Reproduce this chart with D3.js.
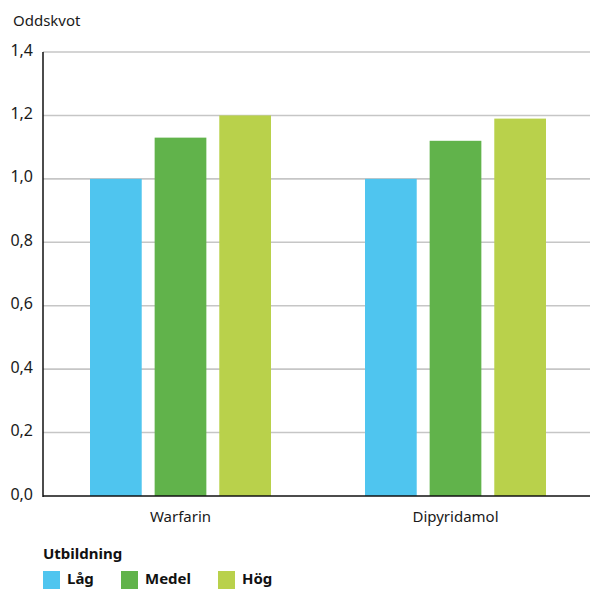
<!DOCTYPE html>
<html><head><meta charset="utf-8">
<script src="https://cdn.jsdelivr.net/npm/d3@7"></script>
<style>body{margin:0;background:#fff}svg{display:block;font-family:"Noto Sans",sans-serif}</style>
</head><body><svg id="c" width="590" height="589"></svg>
<script>
const categories = ["Warfarin", "Dipyridamol"];
const seriesNames = ["Låg", "Medel", "Hög"];
const lagValues = [1.00, 1.00];
const medelValues = [1.13, 1.12];
const hogValues = [1.20, 1.19];
const yTicks = [0, 0.2, 0.4, 0.6, 0.8, 1.0, 1.2, 1.4];
const colors = ["#4fc5ef", "#61b34b", "#b9d14b"];
const seriesValues = [lagValues, medelValues, hogValues];

(function () {
const svg = d3.select("#c");
const mLeft = 43, mRight = 593, mTop = 52, mBottom = 496;
const y = d3.scaleLinear().domain([0, 1.4]).range([mBottom, mTop]);
const x0 = d3.scaleBand().domain(categories).range([mLeft, mRight]).paddingInner(0).paddingOuter(0);
const x1 = d3.scaleBand().domain(seriesNames).range([0, 181]).paddingInner(0.2).paddingOuter(0);
const fmt = d => d3.format(".1f")(d).replace(".", ",");

svg.append("g").selectAll("line").data(yTicks.filter(d => d > 0)).join("line")
  .attr("x1", mLeft).attr("x2", 590).attr("y1", d => y(d)).attr("y2", d => y(d))
  .attr("stroke", "#c6c6c6").attr("stroke-width", 1.6);

svg.append("g").selectAll("text").data(yTicks).join("text")
  .attr("x", 33).attr("y", d => y(d) - 2).attr("dy", "0.35em").attr("text-anchor", "end")
  .attr("font-size", 16).attr("fill", "#1a1a1a").text(fmt);

svg.append("text").attr("x", 13).attr("y", 26).attr("font-size", 15).attr("fill", "#1a1a1a").text("Oddskvot");

const groups = svg.append("g").selectAll("g").data(categories).join("g")
  .attr("transform", c => `translate(${x0(c) + x0.bandwidth() / 2 - 90.5},0)`);
groups.selectAll("rect").data((c, i) => seriesNames.map((s, j) => ({s, j, v: seriesValues[j][i]}))).join("rect")
  .attr("x", d => x1(d.s)).attr("width", x1.bandwidth())
  .attr("y", d => y(d.v)).attr("height", d => y(0) - y(d.v))
  .attr("fill", d => colors[d.j]);

svg.append("line").attr("x1", mLeft).attr("x2", mLeft).attr("y1", mTop).attr("y2", mBottom + 1)
  .attr("stroke", "#111").attr("stroke-width", 1.5);
svg.append("line").attr("x1", mLeft).attr("x2", 590).attr("y1", mBottom).attr("y2", mBottom)
  .attr("stroke", "#111").attr("stroke-width", 1.5);

svg.append("g").selectAll("text").data(categories).join("text")
  .attr("x", c => x0(c) + x0.bandwidth() / 2).attr("y", 522).attr("text-anchor", "middle")
  .attr("font-size", 15).attr("fill", "#1a1a1a").text(c => c);

svg.append("text").attr("x", 43).attr("y", 559).attr("font-size", 15).attr("font-weight", "bold")
  .attr("fill", "#111").text("Utbildning");
const legX = [43, 121, 218];
const lg = svg.append("g").selectAll("g").data(seriesNames).join("g")
  .attr("transform", (d, i) => `translate(${legX[i]},571)`);
lg.append("rect").attr("width", 17).attr("height", 18).attr("fill", (d, i) => colors[i]);
lg.append("text").attr("x", 24).attr("y", 13).attr("font-size", 15).attr("font-weight", "bold")
  .attr("fill", "#111").text(d => d);
})();
</script></body></html>
